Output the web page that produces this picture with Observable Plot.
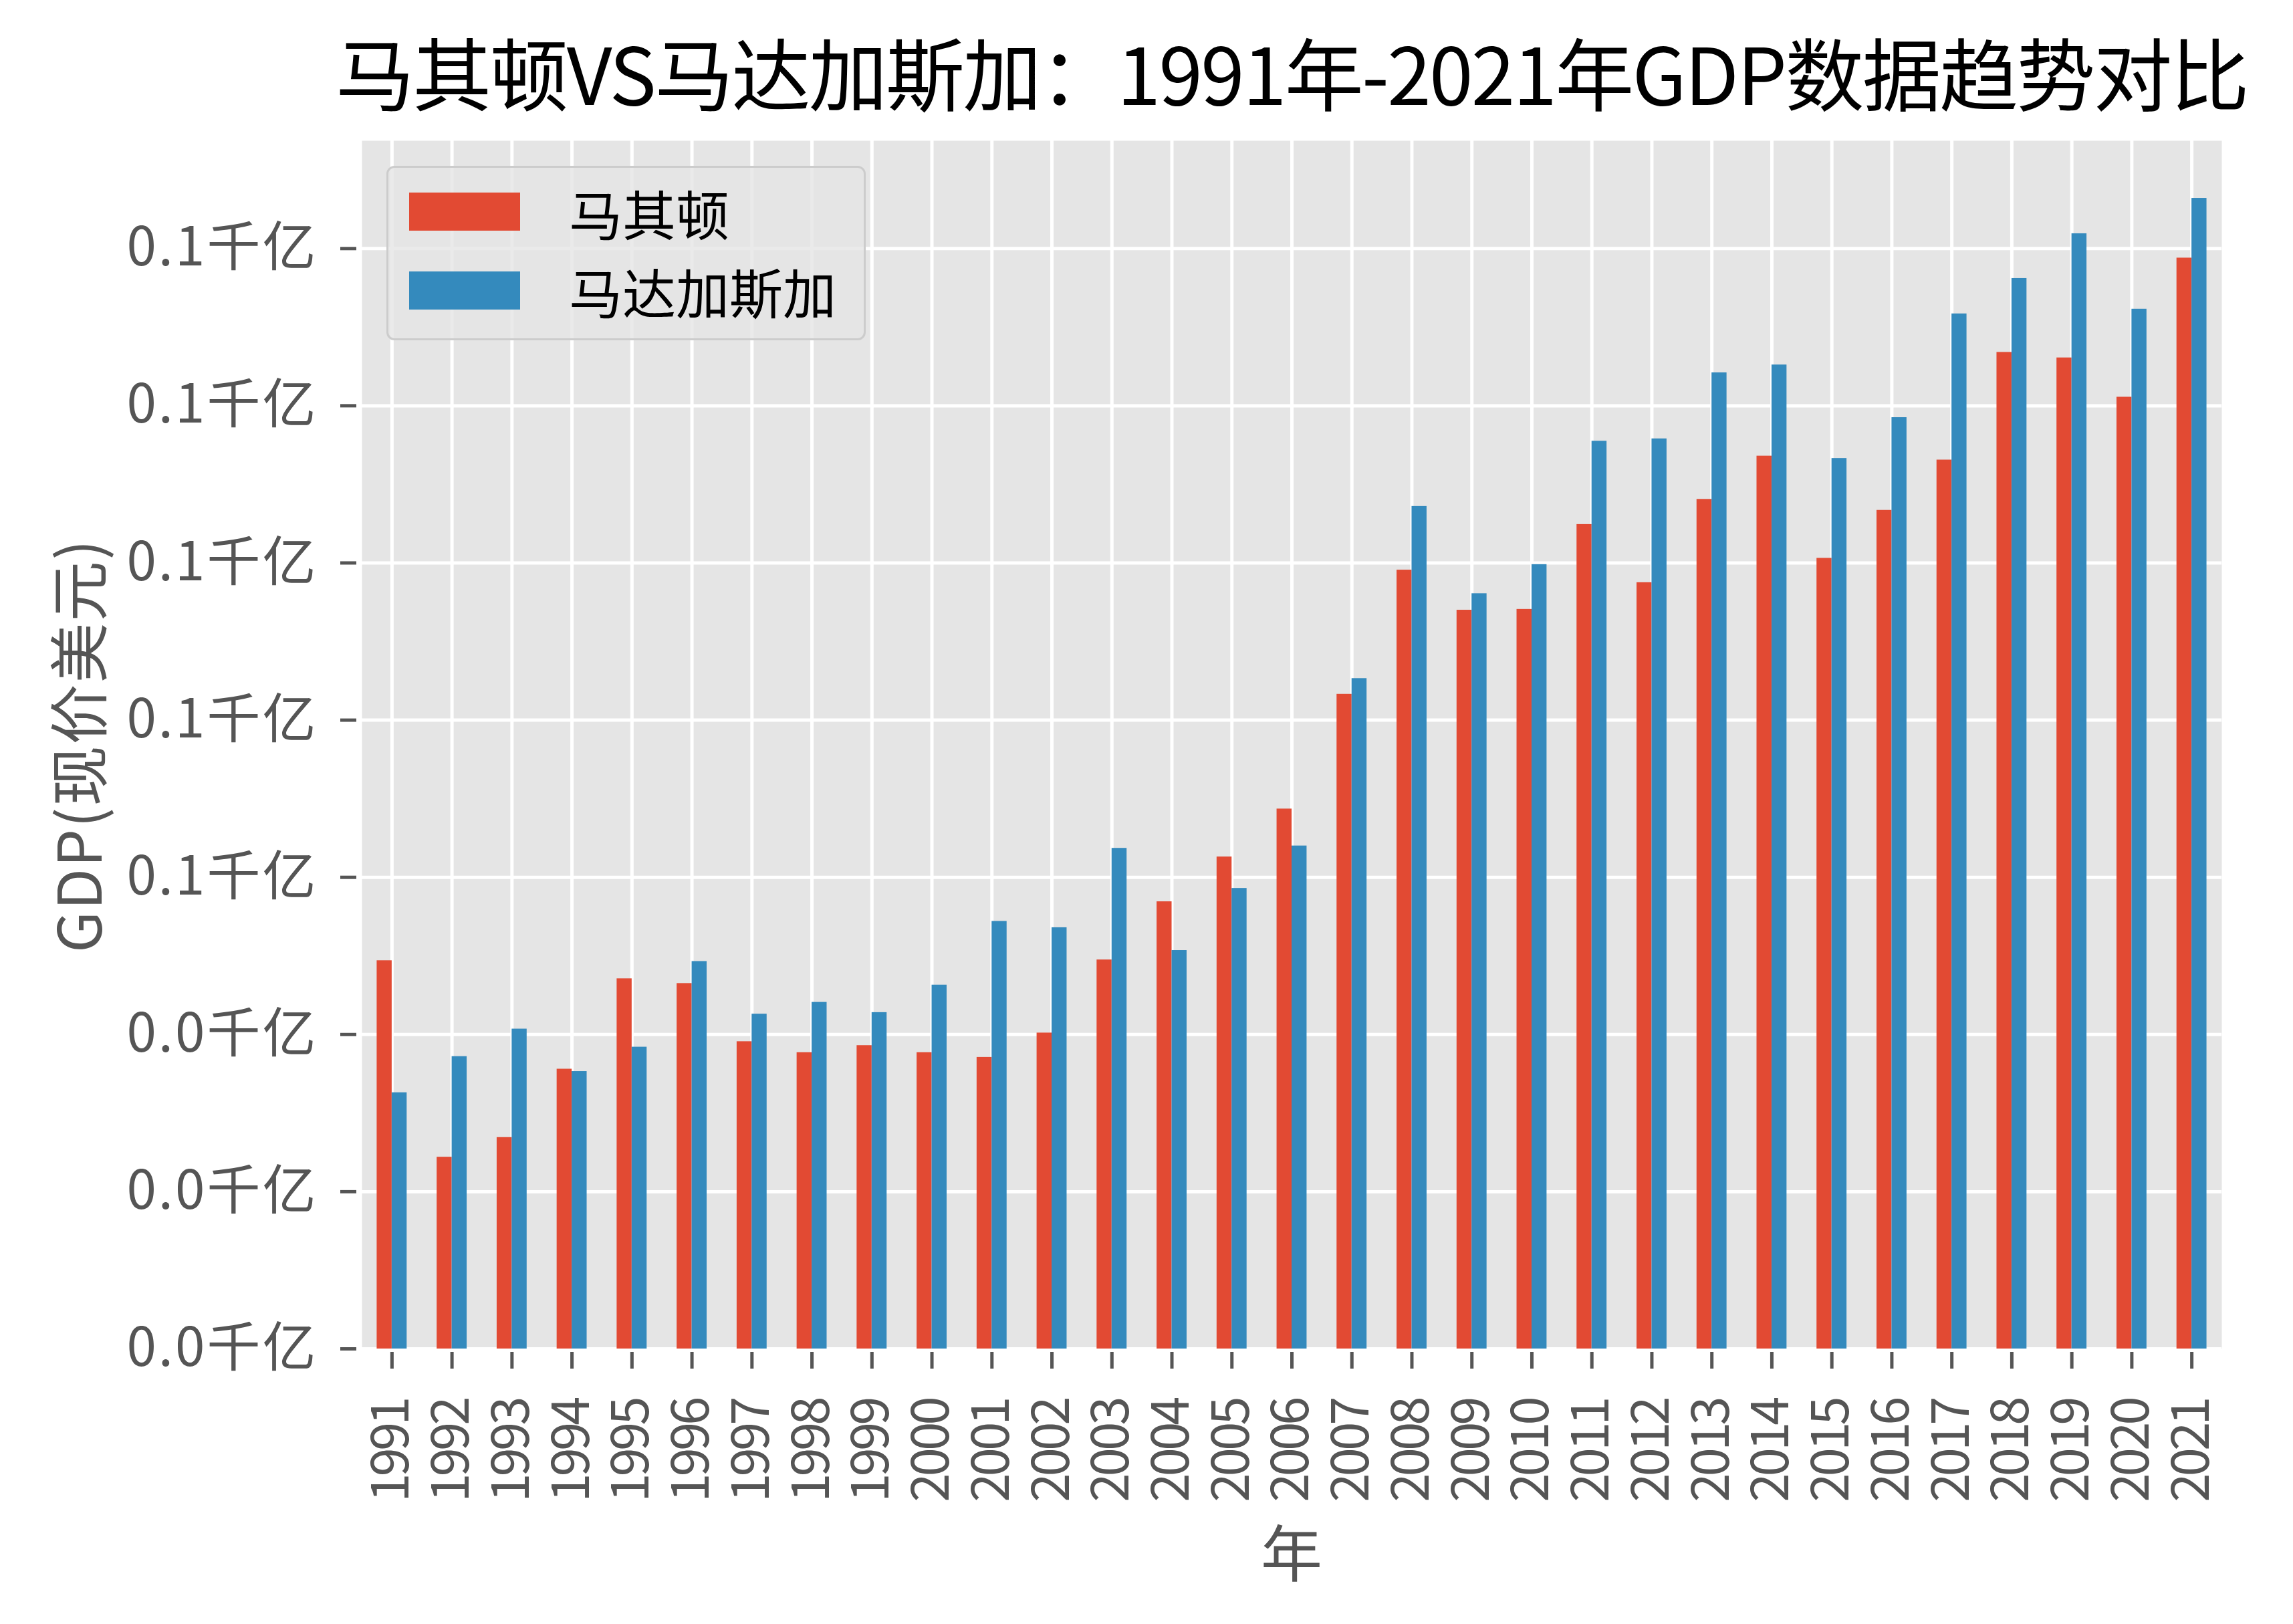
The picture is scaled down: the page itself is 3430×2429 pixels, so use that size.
<!DOCTYPE html>
<html>
<head>
<meta charset="utf-8">
<script src="https://cdn.jsdelivr.net/npm/d3@7"></script>
<script src="https://cdn.jsdelivr.net/npm/@observablehq/plot@0.6"></script>
<style>
html, body { margin: 0; padding: 0; background: #fff; }
#wrap { position: relative; width: 3430px; height: 2429px; overflow: hidden; font-family: "Noto Sans CJK SC", sans-serif; }
#chart { position: absolute; left: 0; top: 0; }
.txt { position: absolute; white-space: nowrap; }
#titlebox { position: absolute; left: 432px; width: 3000px; top: 26px; text-align: center; line-height: 160px; }
#title { display: inline-block; white-space: nowrap; font-size: 118px; line-height: 160px; color: #000; }
#xlabel { left: 1432px; width: 1000px; top: 2218px; text-align: center; font-size: 92px; line-height: 200px; color: #555; }
#ylabel { left: 113px; top: 1115px; width: 1000px; margin-left: -500px; margin-top: -100px; text-align: center; font-size: 90px; line-height: 200px; color: #555; transform: rotate(-90deg); letter-spacing: 2px; }
#legend { position: absolute; left: 578px; top: 248px; width: 717px; height: 261px; box-sizing: border-box; border: 3px solid #cccccc; border-radius: 12px; background: rgba(229,229,229,0.8); }
.sw { position: absolute; left: 31px; width: 166px; height: 57px; }
.lt { position: absolute; left: 270px; font-size: 80px; line-height: 120px; color: #000; white-space: nowrap; }
g[aria-label="x-axis tick label"] text { letter-spacing: -5px; }
g[aria-label="y-axis tick label"] text { letter-spacing: 3px; }
</style>
</head>
<body>
<div id="wrap">
  <div id="chart"></div>
  <div id="titlebox"><span id="title">马其顿VS马达加斯加：1991年-2021年GDP数据趋势对比</span></div>
  <div id="xlabel" class="txt">年</div>
  <div id="ylabel" class="txt">GDP(现价美元)</div>
  <div id="legend"></div>
</div>
<script>
// Data (GDP, billions of current USD)
const years = ["1991","1992","1993","1994","1995","1996","1997","1998","1999","2000",
  "2001","2002","2003","2004","2005","2006","2007","2008","2009","2010",
  "2011","2012","2013","2014","2015","2016","2017","2018","2019","2020","2021"];
const macedonia = [4.94, 2.44, 2.69, 3.56, 4.71, 4.65, 3.91, 3.77, 3.86, 3.77,
  3.71, 4.02, 4.95, 5.69, 6.26, 6.87, 8.33, 9.91, 9.40, 9.41,
  10.49, 9.75, 10.81, 11.36, 10.06, 10.67, 11.31, 12.68, 12.61, 12.11, 13.88];
const madagascar = [3.26, 3.72, 4.07, 3.53, 3.84, 4.93, 4.26, 4.41, 4.28, 4.63,
  5.44, 5.36, 6.37, 5.07, 5.86, 6.40, 8.53, 10.72, 9.61, 9.98,
  11.55, 11.58, 12.42, 12.52, 11.33, 11.85, 13.17, 13.62, 14.19, 13.23, 14.64];
const seriesNames = ["马其顿", "马达加斯加"];
const seriesColors = ["#E24A33", "#348ABD"];
const yTicks = [0, 2, 4, 6, 8, 10, 12, 14];

const rows = years.map((y, i) => ({year: y, a: macedonia[i], b: madagascar[i]}));

const W = 3430, H = 2429;
const mL = 541, mR = 107, mT = 210, mB = 412;
const step = (W - mL - mR) / years.length;
const halfBar = step * 0.25;
const yMax = d3.max([...macedonia, ...madagascar]) * 1.05;
const fontFam = '"Noto Sans CJK SC", sans-serif';

const chart = Plot.plot({
  width: W,
  height: H,
  marginLeft: mL,
  marginRight: mR,
  marginTop: mT,
  marginBottom: mB,
  style: {background: "transparent", fontFamily: fontFam, color: "#555"},
  x: {type: "band", domain: years, paddingInner: 0.5, paddingOuter: 0.25, round: false, label: null},
  y: {domain: [0, yMax], label: null},
  marks: [
    Plot.frame({fill: "#E5E5E5", stroke: "none"}),
    Plot.gridX({stroke: "#ffffff", strokeOpacity: 1, strokeWidth: 5}),
    Plot.gridY(yTicks, {stroke: "#ffffff", strokeOpacity: 1, strokeWidth: 5}),
    Plot.barY(rows, {x: "year", y: "a", fill: seriesColors[0], insetRight: halfBar, insetLeft: 0}),
    Plot.barY(rows, {x: "year", y: "b", fill: seriesColors[1], insetLeft: halfBar, insetRight: 0}),
    Plot.axisY(yTicks, {
      tickFormat: d => (d / 100).toFixed(1) + "千亿",
      tickSize: 24, tickPadding: 34, dx: -8,
      stroke: "#555", strokeWidth: 5, fill: "#555",
      fontSize: 80, label: null
    }),
    Plot.axisX({
      tickRotate: -90, tickSize: 25, tickPadding: 46, dy: 5,
      stroke: "#555", strokeWidth: 5, fill: "#555",
      fontSize: 78, label: null
    })
  ]
});
document.getElementById("chart").appendChild(chart);

// Fit title to the reference width (2860 px) by adjusting letter spacing
const titleEl = document.getElementById("title");
const targetW = 2860;
const natW = titleEl.getBoundingClientRect().width;
const nChars = titleEl.textContent.length;
titleEl.style.letterSpacing = ((targetW - natW) / nChars) + "px";

// Legend
const legend = document.getElementById("legend");
const swTops = [37, 155];
const txtCenters = [66, 183];
seriesNames.forEach((name, i) => {
  const sw = document.createElement("div");
  sw.className = "sw";
  sw.style.top = swTops[i] + "px";
  sw.style.background = seriesColors[i];
  legend.appendChild(sw);
  const t = document.createElement("div");
  t.className = "lt";
  t.style.top = (txtCenters[i] - 60) + "px";
  t.textContent = name;
  legend.appendChild(t);
});
</script>
</body>
</html>
